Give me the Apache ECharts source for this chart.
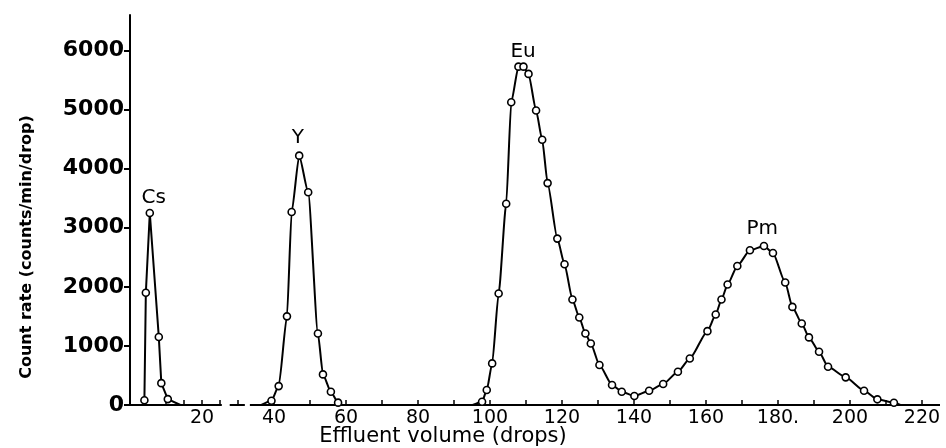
<!DOCTYPE html>
<html>
<head>
<meta charset="utf-8">
<script src="https://cdn.jsdelivr.net/npm/echarts@6/dist/echarts.min.js"></script>
<style>
  html, body { margin: 0; padding: 0; background: #fff; }
  #chart { width: 946px; height: 448px; }
</style>
</head>
<body>
<div id="chart"></div>
<script>
// effluent volume (drops) / count rate (counts/min/drop)
const csX = [4, 4.4, 5.5, 8, 8.7, 10.5, 14]
const csY = [80, 1900, 3250, 1150, 370, 100, 0]

const yX = [36.5, 39.3, 41.3, 43.6, 44.9, 47.0, 49.5, 52.2, 53.6, 55.8, 57.8, 59]
const yY = [0, 73, 320, 1500, 3265, 4220, 3600, 1210, 518, 225, 40, 0]

const euX = [95.2, 97.8, 99.1, 100.6, 102.4, 104.5, 105.9, 107.9, 109.3, 110.7, 112.8, 114.5,
  116.0, 118.7, 120.7, 122.9, 124.8, 126.5, 128.0, 130.4, 133.9, 136.6, 140.1, 144.2]
const euY = [0, 56, 253, 704, 1887, 3407, 5124, 5726, 5726, 5603, 4983, 4488,
  3755, 2816, 2382, 1785, 1481, 1211, 1042, 676, 338, 225, 152, 242]

const pmX = [148.1, 152.2, 155.5, 160.4, 162.7, 164.3, 166.0, 168.7, 172.2, 176.1, 178.6,
  182.0, 184.0, 186.6, 188.6, 191.4, 193.9, 198.8, 203.9, 207.6, 212.2, 214]
const pmY = [355, 563, 788, 1250, 1532, 1785, 2039, 2353, 2618, 2691, 2573,
  2073, 1660, 1380, 1144, 900, 647, 468, 242, 96, 39, 0]

// peak names and where their labels sit
const peakNames = ['Cs', 'Y', 'Eu', 'Pm']
const peakX = [6.6, 46.6, 109.2, 175.6]
const peakY = [3500, 4530, 5970, 2980]

// axis ticks and labels
const xLabelValues = [20, 40, 60, 80, 100, 120, 140, 160, 180, 200, 220]
const xLabels = ['20', '40', '60', '80', '100', '120', '140', '160', '180.', '200', '220']
const xTickValues = [10, 15, 20, 25, 30, 40, 50, 60, 70, 80, 90, 100, 110, 120, 130, 140,
  150, 160, 170, 180, 190, 200, 210, 220]
const yTickValues = [0, 1000, 2000, 3000, 4000, 5000, 6000]
// the x axis line is broken after 20
const xAxisPieces = [[0, 25.5], [27.7, 31.9], [33.3, 225]]

function pairs(xs, ys, hideEnds) {
  return xs.map(function (x, i) {
    const item = { value: [x, ys[i]] }
    if (hideEnds && ys[i] === 0 && (i === 0 || i === xs.length - 1)) {
      item.symbol = 'none'
    }
    return item
  })
}

function axisLineData() {
  const out = []
  xAxisPieces.forEach(function (p) {
    out.push([p[0], 0], [p[1], 0], [p[1], '-'])
  })
  return out
}

const chart = echarts.init(document.getElementById('chart'))

const curveStyle = {
  type: 'line',
  symbol: 'circle',
  symbolSize: 7,
  showSymbol: true,
  clip: false,
  smoothMonotone: 'x',
  itemStyle: { color: '#fff', borderColor: '#000', borderWidth: 1.6 },
  lineStyle: { color: '#000', width: 2 },
  z: 3
}

chart.setOption({
  animation: false,
  grid: { left: 130, right: 6, top: 15, bottom: 43 },
  xAxis: {
    type: 'value',
    min: 0,
    max: 225,
    axisLine: { show: false },
    axisTick: {
      show: true,
      inside: true,
      length: 5,
      customValues: xTickValues,
      lineStyle: { color: '#000', width: 1.5 }
    },
    axisLabel: {
      customValues: xLabelValues,
      formatter: function (v) {
        const i = xLabelValues.indexOf(v)
        return i >= 0 ? xLabels[i] : ''
      },
      color: '#000',
      fontFamily: 'DejaVu Sans',
      fontSize: 19,
      margin: 4
    },
    splitLine: { show: false }
  },
  yAxis: {
    type: 'value',
    min: 0,
    max: 6600,
    axisLine: { show: true, lineStyle: { color: '#000', width: 2 } },
    axisTick: {
      show: true,
      length: 6,
      customValues: yTickValues,
      lineStyle: { color: '#000', width: 2 }
    },
    axisLabel: {
      customValues: yTickValues,
      formatter: function (v) { return String(v) },
      color: '#000',
      fontFamily: 'DejaVu Sans',
      fontWeight: 'bold',
      fontSize: 22,
      margin: 6
    },
    splitLine: { show: false }
  },
  graphic: [{
    type: 'text',
    x: 27,
    y: 247,
    rotation: Math.PI / 2,
    style: {
      text: 'Count rate (counts/min/drop)',
      fill: '#000',
      font: 'bold 16px "DejaVu Sans"',
      textAlign: 'center',
      textVerticalAlign: 'middle'
    }
  }, {
    type: 'text',
    x: 443,
    y: 437,
    style: {
      text: 'Effluent volume (drops)',
      fill: '#000',
      font: '21px "DejaVu Sans"',
      textAlign: 'center',
      textVerticalAlign: 'middle'
    }
  }],
  series: [
    {
      name: 'axis',
      type: 'line',
      symbol: 'none',
      silent: true,
      clip: false,
      lineStyle: { color: '#000', width: 2 },
      data: axisLineData(),
      z: 1
    },
    Object.assign({}, curveStyle, { name: 'Cs', smooth: false, data: pairs(csX, csY, true) }),
    Object.assign({}, curveStyle, { name: 'Y', smooth: 0.2, data: pairs(yX, yY, true) }),
    Object.assign({}, curveStyle, {
      name: 'Eu-Pm',
      smooth: 0.2,
      data: pairs(euX.concat(pmX), euY.concat(pmY), true)
    }),
    {
      name: 'peaks',
      type: 'scatter',
      symbolSize: 0,
      silent: true,
      itemStyle: { opacity: 1 },
      label: {
        show: true,
        position: 'inside',
        formatter: '{b}',
        color: '#000',
        fontFamily: 'DejaVu Sans',
        fontSize: 20
      },
      data: peakNames.map(function (n, i) {
        return { name: n, value: [peakX[i], peakY[i]] }
      }),
      z: 4
    }
  ]
})
</script>
</body>
</html>
